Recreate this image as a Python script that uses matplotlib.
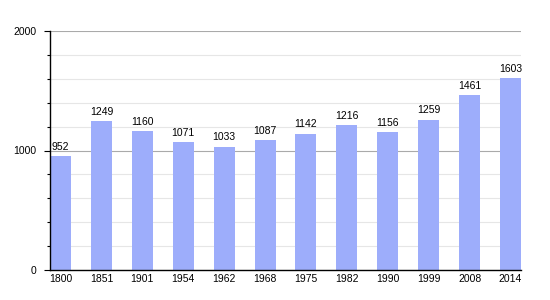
import matplotlib
matplotlib.use("Agg")
import matplotlib.pyplot as plt
import numpy as np

years = ["1800", "1851", "1901", "1954", "1962", "1968", "1975", "1982", "1990", "1999", "2008", "2014"]
population = [952, 1249, 1160, 1071, 1033, 1087, 1142, 1216, 1156, 1259, 1461, 1603]

plt.rcParams['font.family'] = ['Liberation Sans', 'DejaVu Sans']

fig = plt.figure(figsize=(5.5, 3), dpi=100)
ax = fig.add_axes([50/550, 1-270/300, 471/550, 239/300])

w = 0.513
x = np.arange(len(years))
ax.bar(x, population, width=w, align='edge', color='#9dadfb', zorder=2)
for xi, v in zip(x, population):
    ax.text(xi + w/2, v + 35, str(v), ha='center', va='bottom', fontsize=7.5, zorder=3)

ax.set_xlim(0, len(years) - 1 + w)
ax.set_ylim(0, 2000)
ax.set_xticks(x + w/2)
ax.set_xticklabels(years, fontsize=7.5)
ax.tick_params(axis='x', length=0, pad=3)

ax.set_yticks([0, 1000, 2000])
ax.set_yticklabels(["0", "1000", "2000"], fontsize=7.5)
ax.set_yticks(np.arange(200, 2000, 200), minor=True)
ax.tick_params(axis='y', which='major', length=4.5, width=0.8, pad=5)
ax.tick_params(axis='y', which='minor', length=2.3, width=0.8)

ax.grid(axis='y', which='major', color='#aaaaaa', linewidth=0.8, zorder=1)
ax.grid(axis='y', which='minor', color='#e6e6e6', linewidth=0.8, zorder=1)
ax.set_axisbelow(True)

for s in ['top', 'right']:
    ax.spines[s].set_visible(False)
ax.spines['left'].set_linewidth(1.0)
ax.spines['bottom'].set_linewidth(1.0)

fig.savefig("out.png", dpi=100)
